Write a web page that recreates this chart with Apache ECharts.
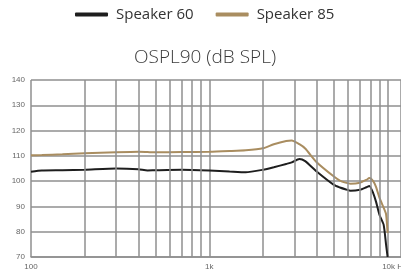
<!DOCTYPE html>
<html>
<head>
<meta charset="utf-8">
<script src="https://cdn.jsdelivr.net/npm/echarts@6/dist/echarts.min.js"></script>
<style>
  html, body { margin: 0; padding: 0; background: #fff; }
  #chart { width: 401px; height: 279px; }
</style>
</head>
<body>
<div id="chart"></div>
<script>
var freq = [100, 115, 150, 200, 300, 400, 450, 500, 700, 1000, 1300, 1600, 2000, 2300, 2700, 2900,
    3200, 3450, 4000, 5000, 5400, 5800, 6200, 7000, 7600, 7900, 8300, 8600, 9000, 9500, 9800, 10000];
var speaker60 = [103.7, 104.2, 104.3, 104.5, 105.0, 104.7, 104.2, 104.3, 104.5, 104.2, 103.8, 103.5, 104.5, 105.5, 106.8, 107.4,
    108.8, 107.9, 103.8, 98.5, 97.5, 96.8, 96.2, 96.6, 97.6, 98.1, 95.3, 92.0, 86.7, 82.8, 75.0, 70.0];
var speaker85 = [110.2, 110.3, 110.6, 111.0, 111.4, 111.6, 111.5, 111.4, 111.5, 111.6, 111.9, 112.2, 113.0, 114.6, 115.9, 116.1,
    114.6, 112.9, 107.5, 101.8, 100.2, 99.4, 99.0, 99.4, 100.5, 101.2, 100.0, 97.8, 93.5, 89.5, 87.0, 79.5];
var minorFreq = [200, 300, 400, 500, 600, 700, 800, 900, 2000, 3000, 4000, 5000, 6000, 7000, 8000, 9000];
var tickNames = { 100: '100', 1000: '1k', 10000: '{k|10k Hz}' };

var gridColor = '#8f8f8f';
var chart = echarts.init(document.getElementById('chart'), null, { renderer: 'canvas' });

function pairs(vals) {
    return freq.map(function (f, i) { return [f, vals[i]]; });
}

chart.setOption({
    animation: false,
    title: {
        text: 'OSPL90 (dB SPL)',
        left: 134,
        top: 48,
        padding: 0,
        textStyle: { fontFamily: 'Open Sans', fontWeight: 300, fontSize: 19, color: '#3a3a3a' }
    },
    legend: {
        left: 75,
        top: 7,
        padding: 0,
        itemWidth: 33,
        itemHeight: 4,
        itemGap: 22,
        icon: 'roundRect',
        textStyle: { fontFamily: 'Open Sans', fontSize: 15, color: '#333', padding: [0, 0, 0, 3] },
        data: ['Speaker 60', 'Speaker 85']
    },
    grid: { left: 31, right: 0, top: 80, bottom: 22, containLabel: false, outerBoundsMode: 'none' },
    xAxis: {
        type: 'log',
        logBase: 10,
        min: 100,
        max: 11890,
        axisLine: { show: true, lineStyle: { color: gridColor, width: 1.5 } },
        axisTick: { show: false },
        splitLine: { show: true, lineStyle: { color: gridColor, width: 1.5 } },
        axisLabel: {
            showMaxLabel: false,
            hideOverlap: false,
            margin: 6,
            fontFamily: 'Liberation Sans',
            fontSize: 8,
            color: '#666',
            formatter: function (v) { return tickNames[Math.round(v)] || ''; },
            rich: { k: { fontFamily: 'Liberation Sans', fontSize: 8, color: '#666', padding: [0, 0, 0, 14] } }
        }
    },
    yAxis: {
        type: 'value',
        min: 70,
        max: 140,
        interval: 10,
        axisLine: { show: false },
        axisTick: { show: false },
        splitLine: { show: true, lineStyle: { color: gridColor, width: 1.5 } },
        axisLabel: { margin: 6, fontFamily: 'Liberation Sans', fontSize: 8, color: '#666' }
    },
    series: [
        {
            name: 'Speaker 60',
            type: 'line',
            data: pairs(speaker60),
            showSymbol: false,
            smooth: 0.2,
            color: '#1e1e1e',
            lineStyle: { width: 2 },
            markLine: {
                silent: true,
                symbol: 'none',
                label: { show: false },
                lineStyle: { type: 'solid', color: gridColor, width: 1.5 },
                data: minorFreq.map(function (f) { return { xAxis: f }; })
            },
            z: 3
        },
        {
            name: 'Speaker 85',
            type: 'line',
            data: pairs(speaker85),
            showSymbol: false,
            smooth: 0.2,
            color: '#a98d60',
            lineStyle: { width: 2 },
            z: 2
        }
    ]
});
</script>
</body>
</html>
